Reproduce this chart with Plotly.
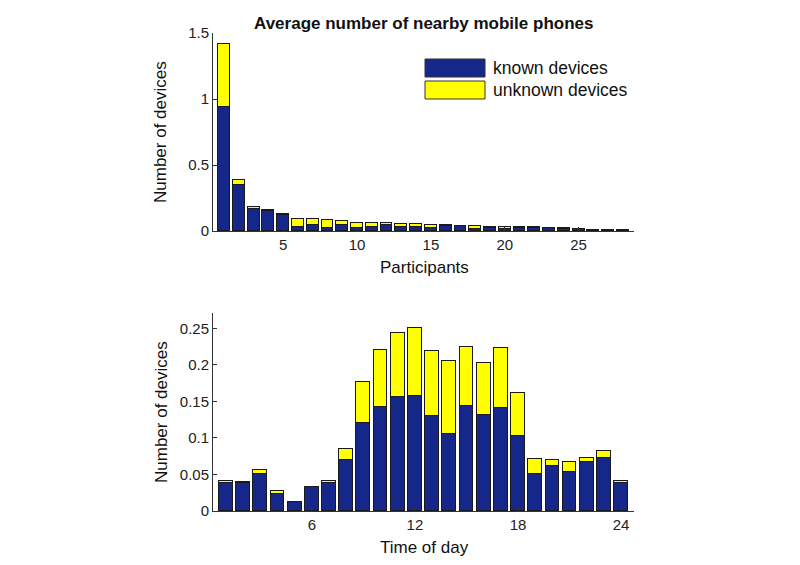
import plotly.graph_objects as go

# ---- data ----
participants = list(range(1, 29))
part_known = [0.937, 0.346, 0.164, 0.155, 0.125, 0.033, 0.045, 0.023, 0.043, 0.023,
              0.033, 0.043, 0.033, 0.028, 0.023, 0.038, 0.036, 0.018, 0.023, 0.015,
              0.020, 0.024, 0.020, 0.018, 0.012, 0.008, 0.006, 0.004]
part_unknown = [0.483, 0.044, 0.021, 0.002, 0.004, 0.058, 0.046, 0.058, 0.030, 0.040,
                0.025, 0.015, 0.017, 0.022, 0.025, 0.005, 0.002, 0.017, 0.010, 0.015,
                0.008, 0.004, 0.003, 0.002, 0.003, 0.002, 0.001, 0.001]

hours = list(range(1, 25))
hour_known = [0.039, 0.038, 0.050, 0.023, 0.012, 0.033, 0.038, 0.0695, 0.121, 0.142,
              0.156, 0.158, 0.130, 0.106, 0.144, 0.131, 0.141, 0.103, 0.051, 0.061,
              0.053, 0.067, 0.072, 0.038]
hour_unknown = [0.0027, 0.0018, 0.0067, 0.005, 0.0009, 0.0004, 0.0027, 0.016, 0.055, 0.078,
                0.087, 0.092, 0.089, 0.099, 0.080, 0.071, 0.0815, 0.058, 0.0203, 0.009,
                0.014, 0.006, 0.010, 0.0037]

top_xticks = [5, 10, 15, 20, 25]
top_yticks = [0, 0.5, 1, 1.5]
top_yticklabels = ["0", "0.5", "1", "1.5"]
bot_xticks = [6, 12, 18, 24]
bot_yticks = [0, 0.05, 0.1, 0.15, 0.2, 0.25]
bot_yticklabels = ["0", "0.05", "0.1", "0.15", "0.2", "0.25"]

BLUE = "#16278a"
YELLOW = "#ffff00"
FONT = "Liberation Sans"
OFF = 8  # page body margin
W, H = 800 - 2 * OFF, 565 - 2 * OFF

def px(x):
    return (x - OFF) / W

def py(y):
    return 1 - (y - OFF) / H

line = dict(color="#1a1a1a", width=1)
fig = go.Figure()
fig.add_bar(x=participants, y=part_known, marker=dict(color=BLUE, line=line),
            width=0.8, name="known devices", xaxis="x", yaxis="y", showlegend=False)
fig.add_bar(x=participants, y=part_unknown, marker=dict(color=YELLOW, line=line),
            width=0.8, name="unknown devices", xaxis="x", yaxis="y", showlegend=False)
fig.add_bar(x=hours, y=hour_known, marker=dict(color=BLUE, line=line),
            width=0.8, name="known devices", xaxis="x2", yaxis="y2", showlegend=False)
fig.add_bar(x=hours, y=hour_unknown, marker=dict(color=YELLOW, line=line),
            width=0.8, name="unknown devices", xaxis="x2", yaxis="y2", showlegend=False)

xd = [px(213), px(634)]
ax_common = dict(showline=True, linecolor="#333", linewidth=1, ticks="inside",
                 ticklen=4, tickcolor="#333", showgrid=False, zeroline=False,
                 automargin=False,
                 tickfont=dict(family=FONT, size=15, color="#222"))

fig.update_layout(
    width=W, height=H, barmode="stack", bargap=0,
    paper_bgcolor="white", plot_bgcolor="white",
    margin=dict(l=0, r=0, t=0, b=0, autoexpand=False),
    font=dict(family=FONT, color="#222"),
    xaxis=dict(domain=xd, range=[0.25, 28.75], tickvals=top_xticks, anchor="y", **ax_common),
    yaxis=dict(domain=[py(231), py(33)], range=[0, 1.5], tickvals=top_yticks,
               ticktext=top_yticklabels, anchor="x", **ax_common),
    xaxis2=dict(domain=xd, range=[0.25, 24.75], tickvals=bot_xticks, anchor="y2", **ax_common),
    yaxis2=dict(domain=[py(511), py(313)], range=[0, 0.271], tickvals=bot_yticks,
                ticktext=bot_yticklabels, anchor="x2", **ax_common),
)

def ann(text, x, y, size, angle=0, xanchor="center", bold=False):
    fig.add_annotation(text=f"<b>{text}</b>" if bold else text, x=px(x), y=py(y),
                       xref="paper", yref="paper", showarrow=False, textangle=angle,
                       xanchor=xanchor, yanchor="middle",
                       font=dict(family=FONT, size=size, color="#111"))

# title and axis titles
ann("Average number of nearby mobile phones", 423, 23, 17, bold=True)
ann("Participants", 424, 267, 17)
ann("Time of day", 424, 547, 17)
ann("Number of devices", 161, 132, 17, angle=-90)
ann("Number of devices", 161, 412, 17, angle=-90)

# legend (swatches + labels)
legend_items = [("known devices", BLUE, 59, 77), ("unknown devices", YELLOW, 81, 99)]
for label, col, y0, y1 in legend_items:
    fig.add_shape(type="rect", xref="paper", yref="paper",
                  x0=px(425), x1=px(485), y0=py(y1), y1=py(y0),
                  fillcolor=col, line=dict(color="#333", width=1))
    ann(label, 491, (y0 + y1) / 2, 17.5, xanchor="left")

fig.write_html("out.html")
